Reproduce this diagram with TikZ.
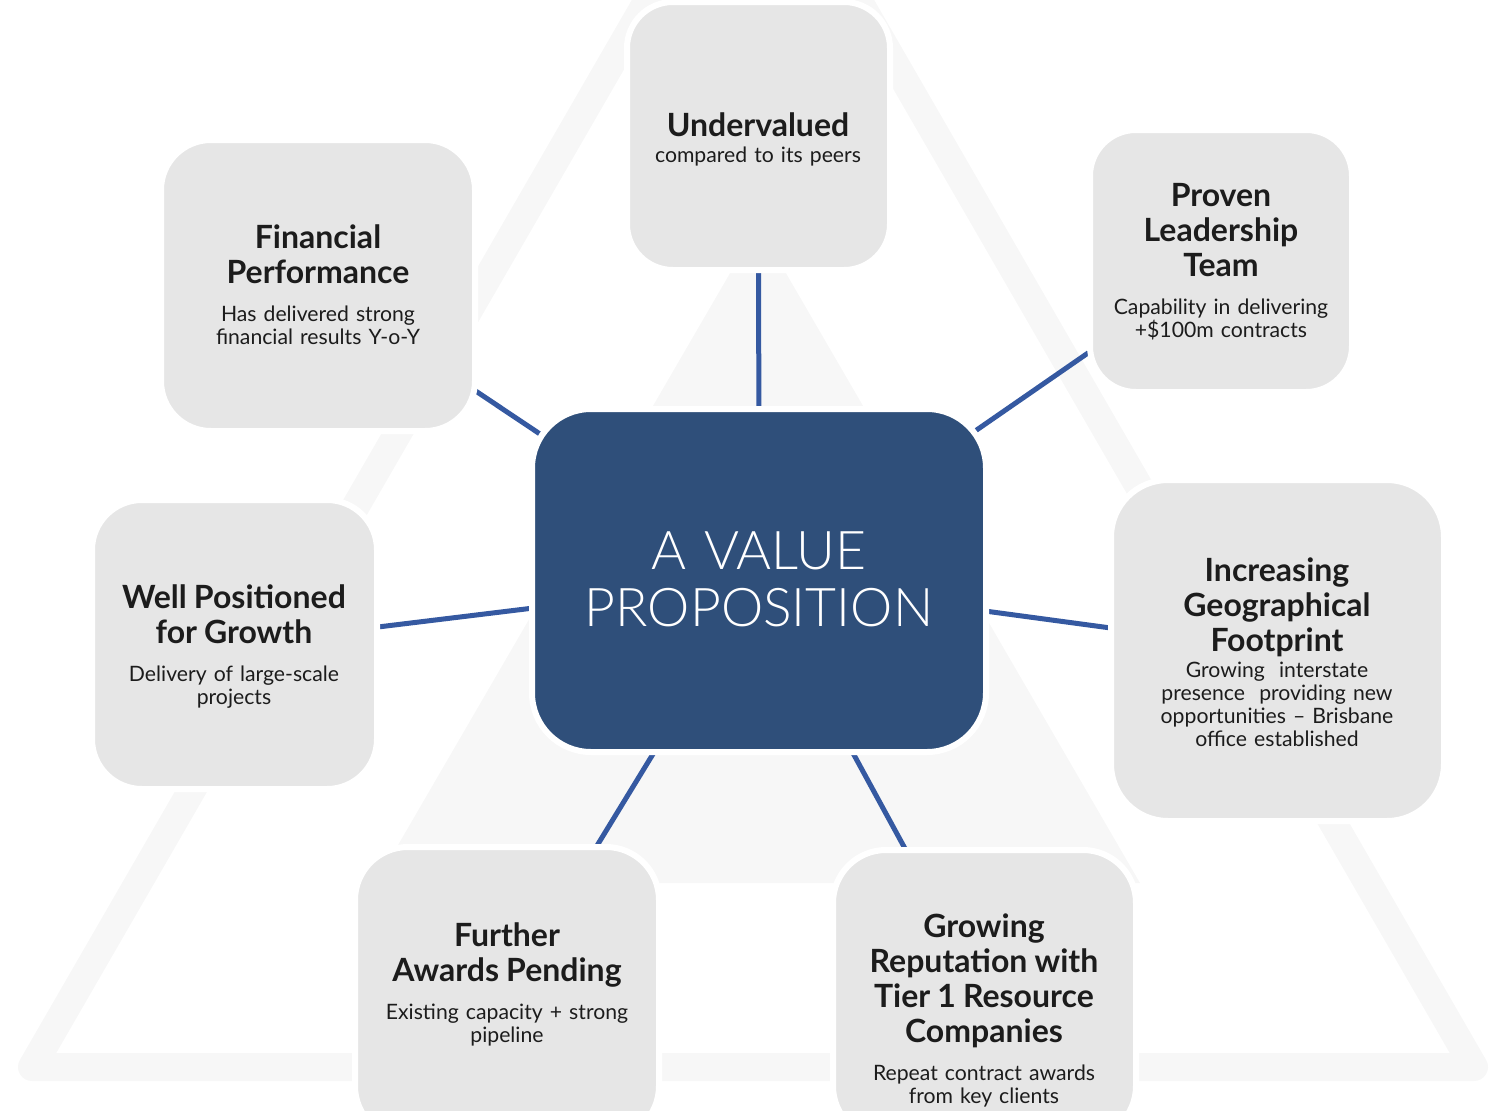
\documentclass[tikz,border=0pt]{standalone}
\usepackage{fontspec}
\setmainfont{Lato}
\IfFontExistsTF{Lato Light}{\newfontfamily\lightfont{Lato Light}}{\newfontfamily\lightfont{Lato}}
\usetikzlibrary{backgrounds}
\definecolor{boxgray}{HTML}{E6E6E6}
\definecolor{navy}{HTML}{2F4F7A}
\definecolor{linkblue}{HTML}{3559A1}
\definecolor{trigray}{HTML}{F7F7F7}
\definecolor{ink}{HTML}{1C1C1C}
\newcommand\headfont{\fontsize{16}{17.5}\selectfont\bfseries}
\tikzset{
  card/.style={rectangle, draw=white, line width=3pt, fill=boxgray, inner sep=0pt},
  hub/.style={rectangle, draw=white, line width=3pt, fill=navy, inner sep=0pt},
  txt/.style={align=center, text width=170pt, inner sep=0pt, text=ink, font=\fontsize{10.6}{11.5}\selectfont},
  hubtxt/.style={align=center, text width=220pt, inner sep=0pt, text=white, font=\lightfont\fontsize{26.7}{28.5}\selectfont},
  link/.style={draw=linkblue, line width=2.5pt},
  band/.style={draw=trigray, line width=14pt, line join=round},
}
\begin{document}
\begin{tikzpicture}[x=0.5pt,y=-0.5pt]
\useasboundingbox (0,0) rectangle (1496,1110);
% boxes
\node[hub, minimum width=227pt, minimum height=171.5pt, rounded corners=29.5pt] (cen) at (759,580.5) {};
\node[card, minimum width=131.5pt, minimum height=134pt, rounded corners=23pt] (und) at (758.5,136) {};
\node[card, minimum width=157pt, minimum height=145.5pt, rounded corners=25pt] (fin) at (318,285.5) {};
\node[card, minimum width=131pt, minimum height=131pt, rounded corners=23pt] (pro) at (1221,261) {};
\node[card, minimum width=142.5pt, minimum height=144.5pt, rounded corners=25pt] (wel) at (234.5,644.5) {};
\node[card, minimum width=166.5pt, minimum height=170.5pt, rounded corners=28.5pt] (inc) at (1277.5,650.5) {};
\node[card, minimum width=152pt, minimum height=146pt, rounded corners=26.5pt] (fur) at (507,993) {};
\node[card, minimum width=151.5pt, minimum height=144.5pt, rounded corners=26.5pt] (gro) at (984.5,994.5) {};
% texts
\node[hubtxt] (cen-t) at (759,579) {A VALUE\\PROPOSITION};
\node[txt] (und-t) at (758,139) {{\headfont Undervalued\\[1.5pt]}compared to its peers};
\node[txt] (fin-t) at (318,285) {{\headfont Financial\\Performance\\[7.5pt]}Has delivered strong\\financial results Y-o-Y};
\node[txt] (pro-t) at (1221,262) {{\headfont Proven\\Leadership\\Team\\[7.5pt]}Capability in delivering\\+\$100m contracts};
\node[txt] (wel-t) at (234,647) {{\headfont Well Positioned\\for Growth\\[7.5pt]}Delivery of large-scale\\projects};
\node[txt] (inc-t) at (1277,652) {{\headfont Increasing\\Geographical\\Footprint\\[1.5pt]}Growing~ interstate\\presence~ providing new\\opportunities – Brisbane\\office established};
\node[txt] (fur-t) at (507,984) {{\headfont Further\\Awards Pending\\[7.5pt]}Existing capacity + strong\\pipeline};
\node[txt] (gro-t) at (984,1010) {{\headfont Growing\\Reputation with\\Tier 1 Resource\\Companies\\[7.5pt]}Repeat contract awards\\from key clients};
\begin{pgfonlayer}{background}
  \draw[band] (32,1067) -- (753,-182) -- (1474,1067) -- cycle;
  \fill[trigray] (758,225) -- (1140,883) -- (376,883) -- cycle;
  \draw[link] (cen.center) -- (und.center);
  \draw[link] (cen.center) -- (fin.center);
  \draw[link] (cen.center) -- (pro.center);
  \draw[link] (cen.center) -- (wel.center);
  \draw[link] (cen.center) -- (inc.center);
  \draw[link] (cen.center) -- (fur.center);
  \draw[link] (cen.center) -- (gro.center);
\end{pgfonlayer}
\end{tikzpicture}
\end{document}
